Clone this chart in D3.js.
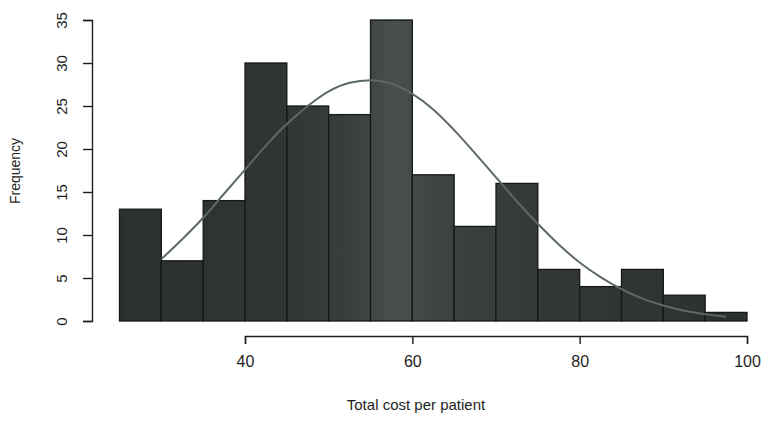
<!DOCTYPE html>
<html>
<head>
<meta charset="utf-8">
<script src="https://cdn.jsdelivr.net/npm/d3@7"></script>
<style>
  body { margin: 0; background: #fff; }
  text { font-family: "Liberation Sans", Arial, sans-serif; fill: #1e1e1e; }
  .axis path, .axis line { stroke: #1e1e1e; stroke-width: 1.4; }
</style>
</head>
<body>
<script>
(function(){

//histogram bins (lower edges, width 5) and counts
var binStarts = [25, 30, 35, 40, 45, 50, 55, 60, 65, 70, 75, 80, 85, 90, 95];
var binWidth = 5;
var counts = [13, 7, 14, 30, 25, 24, 35, 17, 11, 16, 6, 4, 6, 3, 1];

//fitted curve
var curveX = [30, 32.5, 35, 37.5, 40, 42.5, 45, 47.5, 50, 52.5, 55, 57.5, 60, 62.5, 65,
              67.5, 70, 72.5, 75, 77.5, 80, 82.5, 85, 87.5, 90, 92.5, 95, 97.5];
var curveY = [7.2, 9.5, 12.0, 14.8, 17.6, 20.4, 22.9, 25.0, 26.7, 27.7, 28.0, 27.6, 26.4, 24.6, 22.2,
              19.5, 16.7, 13.9, 11.3, 8.9, 6.8, 5.1, 3.7, 2.6, 1.8, 1.2, 0.8, 0.5];

var xTicks = [40, 60, 80, 100];
var yTicks = [0, 5, 10, 15, 20, 25, 30, 35];

var width = 768,
    height = 421;

var svg = d3.select("body")
    .append("svg")
    .attr("width", width)
    .attr("height", height);

var x = d3.scaleLinear()
    .domain([40, 100])
    .range([245, 747]);

var y = d3.scaleLinear()
    .domain([0, 35])
    .range([321, 20]);

//scanned look: bars a little lighter towards the middle
var grad = svg.append("defs").append("linearGradient")
    .attr("id", "barFill")
    .attr("gradientUnits", "userSpaceOnUse")
    .attr("x1", x(25)).attr("x2", x(100))
    .attr("y1", 0).attr("y2", 0);
grad.selectAll("stop")
    .data([[0, "#2b3030"], [0.25, "#2f3434"], [0.36, "#383d3d"], [0.44, "#494e4e"],
           [0.52, "#3c4141"], [0.68, "#323737"], [1, "#2c3030"]])
    .enter()
    .append("stop")
    .attr("offset", function(d){ return d[0]; })
    .attr("stop-color", function(d){ return d[1]; });

//bars
svg.selectAll(".bar")
    .data(counts)
    .enter()
    .append("rect")
    .attr("class", "bar")
    .attr("x", function(d, i){ return x(binStarts[i]); })
    .attr("width", function(d, i){ return x(binStarts[i] + binWidth) - x(binStarts[i]); })
    .attr("y", function(d){ return y(d); })
    .attr("height", function(d){ return y(0) - y(d); })
    .attr("fill", "url(#barFill)")
    .attr("stroke", "#161818")
    .attr("stroke-width", 1.3);

//fitted normal curve
var line = d3.line()
    .x(function(d, i){ return x(curveX[i]); })
    .y(function(d){ return y(d); })
    .curve(d3.curveMonotoneX);

svg.append("path")
    .datum(curveY)
    .attr("d", line)
    .attr("fill", "none")
    .attr("stroke", "#5d6868")
    .attr("stroke-width", 2);

//x axis
var xAxis = svg.append("g")
    .attr("class", "axis")
    .attr("transform", "translate(0,336)")
    .call(d3.axisBottom(x).tickValues(xTicks).tickSize(8).tickPadding(12));
xAxis.selectAll("text")
    .style("font-size", "16px");

//y axis with rotated labels
var yAxis = svg.append("g")
    .attr("class", "axis")
    .attr("transform", "translate(92,0)")
    .call(d3.axisLeft(y).tickValues(yTicks).tickSize(9).tickPadding(0));
yAxis.selectAll(".tick text")
    .attr("x", 0)
    .attr("y", 0)
    .attr("dy", "0.35em")
    .attr("text-anchor", "middle")
    .attr("transform", "translate(-30,0) rotate(-90)")
    .style("font-size", "15px");

//axis titles
svg.append("text")
    .attr("x", 416)
    .attr("y", 410)
    .attr("text-anchor", "middle")
    .style("font-size", "15px")
    .text("Total cost per patient");

svg.append("text")
    .attr("transform", "translate(20,171) rotate(-90)")
    .attr("text-anchor", "middle")
    .style("font-size", "14px")
    .text("Frequency");

})();
</script>
</body>
</html>
